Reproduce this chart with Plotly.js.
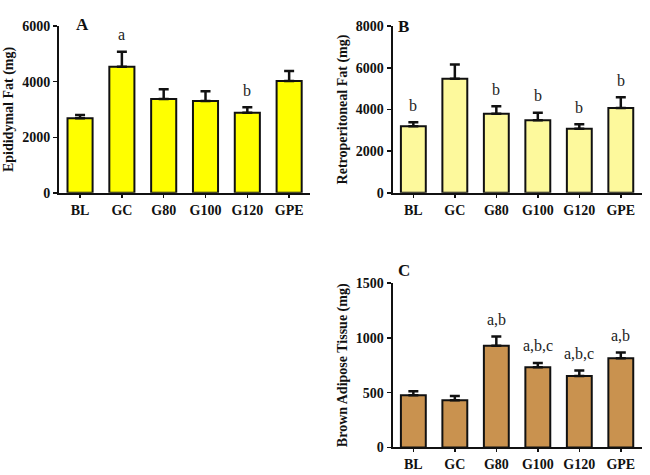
<!DOCTYPE html>
<html>
<head>
<meta charset="utf-8">
<script src="https://cdn.plot.ly/plotly-3.0.1.min.js"></script>
<style>
  html, body { margin: 0; padding: 0; background: #fff; }
  #myDiv { width: 650px; height: 475px; }
</style>
</head>
<body>
<div id="myDiv"></div>
<script>
// groups
var groups = ['BL', 'GC', 'G80', 'G100', 'G120', 'GPE'];

// A - epididymal fat (mg), mean and SEM
var epiMean = [2684, 4538, 3377, 3305, 2885, 4024];
var epiErr  = [116, 540, 348, 348, 193, 359];
var epiLetters = ['', 'a', '', '', 'b', ''];

// B - retroperitoneal fat (mg)
var retroMean = [3200, 5472, 3790, 3485, 3070, 4075];
var retroErr  = [190, 690, 370, 355, 225, 515];
var retroLetters = ['b', '', 'b', 'b', 'b', 'b'];

// C - brown adipose tissue (mg)
var batMean = [476, 431, 928, 732, 651, 813];
var batErr  = [36, 39, 84, 39, 51, 54];
var batLetters = ['', '', 'a,b', 'a,b,c', 'a,b,c', 'a,b'];

var serif = 'Liberation Serif, Times New Roman, serif';

function barTrace(means, errs, color, xa, ya) {
    return {
	type: 'bar',
	x: groups,
	y: means,
	xaxis: xa,
	yaxis: ya,
	width: 0.6,
	marker: {color: color, line: {color: '#111', width: 2}},
	error_y: {
	    type: 'data',
	    symmetric: false,
	    array: errs,
	    arrayminus: errs.map(function () { return 0; }),
	    color: '#111',
	    thickness: 2.5,
	    width: 5
	},
	hoverinfo: 'x+y'
    };
}

// letters sit a little above the error bar
function letterNotes(means, errs, letters, xa, ya) {
    var out = [];
    letters.forEach(function (t, i) {
	if (!t) return;
	out.push({
	    text: t,
	    x: groups[i],
	    y: means[i] + errs[i],
	    xref: xa,
	    yref: ya,
	    yshift: 17,
	    showarrow: false,
	    font: {family: serif, size: 16, color: '#222'}
	});
    });
    return out;
}

var data = [
    barTrace(epiMean, epiErr, '#ffff00', 'x', 'y'),
    barTrace(retroMean, retroErr, '#fdf99c', 'x2', 'y2'),
    barTrace(batMean, batErr, '#c9924f', 'x3', 'y3')
];

function xAxis(domain, anchor) {
    return {
	domain: domain,
	anchor: anchor,
	range: [-0.5, 5.5],
	showline: true,
	linecolor: '#111',
	linewidth: 2,
	ticks: 'outside',
	ticklen: 3,
	tickwidth: 1.5,
	tickcolor: '#111',
	showgrid: false,
	zeroline: false,
	tickfont: {family: serif, size: 14, color: '#111', weight: 'bold'},
	fixedrange: true
    };
}

function yAxis(domain, anchor, max, dtick, title) {
    return {
	domain: domain,
	anchor: anchor,
	range: [0, max],
	dtick: dtick,
	showline: true,
	linecolor: '#111',
	linewidth: 2,
	ticks: 'outside',
	ticklen: 4,
	tickwidth: 1.5,
	tickcolor: '#111',
	showgrid: false,
	zeroline: false,
	tickfont: {family: serif, size: 14, color: '#111', weight: 'bold'},
	title: {
	    text: title,
	    font: {family: serif, size: 14, color: '#111', weight: 'bold'},
	    standoff: 5
	},
	fixedrange: true
    };
}

var panelNotes = [
    {text: 'A', x: 74 / 650, y: 1 - 13 / 475},
    {text: 'B', x: 404 / 650, y: 1 - 15 / 475},
    {text: 'C', x: 404 / 650, y: 1 - 270 / 475}
].map(function (a) {
    a.xref = 'paper'; a.yref = 'paper';
    a.showarrow = false;
    a.font = {family: serif, size: 17, color: '#111', weight: 'bold'};
    return a;
});

var layout = {
    width: 650,
    height: 475,
    margin: {l: 0, r: 0, t: 0, b: 0},
    showlegend: false,
    plot_bgcolor: '#fff',
    paper_bgcolor: '#fff',
    xaxis: xAxis([0.091, 0.477], 'y'),
    yaxis: yAxis([0.594, 0.945], 'x', 6000, 2000, 'Epididymal Fat (mg)'),
    xaxis2: xAxis([0.604, 0.987], 'y2'),
    yaxis2: yAxis([0.594, 0.945], 'x2', 8000, 2000, 'Retroperitoneal Fat (mg)'),
    xaxis3: xAxis([0.604, 0.987], 'y3'),
    yaxis3: yAxis([0.058, 0.404], 'x3', 1500, 500, 'Brown Adipose Tissue (mg)'),
    annotations: panelNotes
	.concat(letterNotes(epiMean, epiErr, epiLetters, 'x', 'y'))
	.concat(letterNotes(retroMean, retroErr, retroLetters, 'x2', 'y2'))
	.concat(letterNotes(batMean, batErr, batLetters, 'x3', 'y3'))
};

Plotly.newPlot('myDiv', data, layout, {displayModeBar: false, staticPlot: true});
</script>
</body>
</html>
